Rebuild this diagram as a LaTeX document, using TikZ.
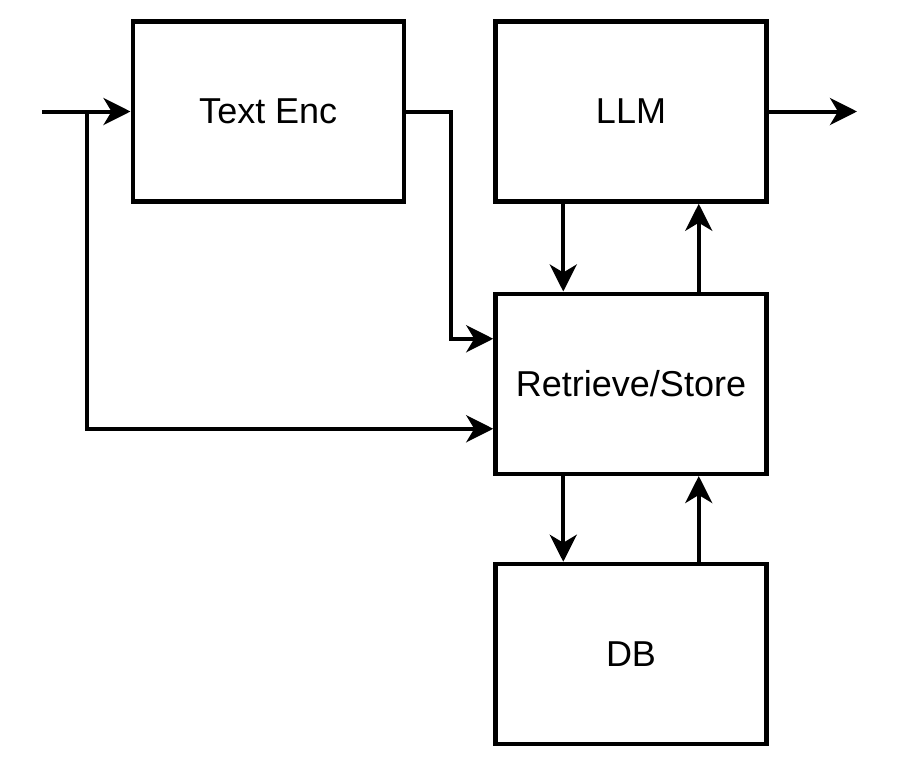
\documentclass[tikz,border=0pt]{standalone}
\usepackage{fontspec}
\setmainfont{Liberation Sans}
\usetikzlibrary{arrows.meta}
\begin{document}
\begin{tikzpicture}[x=1pt, y=-1pt, >={Stealth[length=27pt,width=27pt,inset=8pt]}, line width=4pt, line join=miter,
	font=\fontsize{36}{42}\selectfont,
	block/.style={draw, line width=4.5pt, minimum width=271pt, minimum height=180pt, inner sep=0pt}]
	\useasboundingbox (0,0) rectangle (900,766);
	\node[block] (enc) at (268.25,111.5) {Text Enc};
	\node[block] (llm) at (631,111.5) {LLM};
	\node[block] (rs) at (631,383.75) {Retrieve/Store};
	\node[block] (db) at (631,654) {DB};
	\coordinate (in) at (42,111.5);
	\coordinate (split) at (87,111.5);
	\coordinate (out) at (857,111.5);
	% input and encoder
	\draw[->] (in) -- (enc.west);
	\draw[->] (split) |- ([yshift=-45pt]rs.west);
	\draw[->] (enc.east) -- ++(45,0) |- ([yshift=45pt]rs.west);
	% llm <-> retrieve/store
	\draw[->] ([xshift=-67.75pt]llm.south) -- ([xshift=-67.75pt]rs.north);
	\draw[->] ([xshift=67.75pt]rs.north) -- ([xshift=67.75pt]llm.south);
	\draw[->] (llm.east) -- (out);
	% retrieve/store <-> db
	\draw[->] ([xshift=-67.75pt]rs.south) -- ([xshift=-67.75pt]db.north);
	\draw[->] ([xshift=67.75pt]db.north) -- ([xshift=67.75pt]rs.south);
\end{tikzpicture}
\end{document}
